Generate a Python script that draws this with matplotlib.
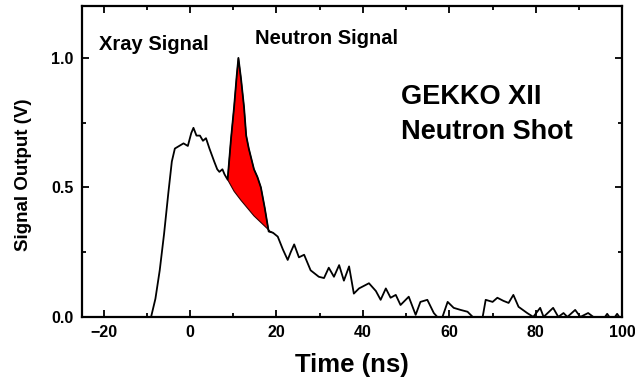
import matplotlib
matplotlib.use("Agg")
import matplotlib.pyplot as plt
from matplotlib.ticker import MultipleLocator, FormatStrFormatter

plt.rcParams['font.family'] = ['Liberation Sans', 'DejaVu Sans']
plt.rcParams['font.weight'] = 'bold'

#%% Signal trace (time in ns, output in V)
time_ns = [-25, -9, -8, -7, -6, -5, -4.2, -3.5, -2.5, -1.5, -0.5, 0.3, 0.8, 1.5, 2.3, 3.0, 3.7,
           4.5, 5.6, 6.3, 6.8, 7.5, 8.0, 8.7, 9.5, 10.2, 10.8, 11.2, 11.8, 12.5, 13.0, 13.6,
           14.8, 15.6, 16.4, 17.3, 18.2, 19.2, 20.3, 21.5, 22.6, 23.3, 24.1, 25.2, 26.4, 27.9,
           29.8, 31.0, 32.1, 33.3, 34.5, 35.6, 36.8, 37.9, 39.1, 41.4, 43.0, 44.1, 45.3, 46.4,
           47.6, 48.7, 50.6, 52.2, 53.3, 54.9, 56.4, 57.2, 58.4, 59.6, 61.0, 62.6, 64.2, 65.4,
           67.7, 68.4, 70.0, 71.1, 72.5, 73.7, 74.8, 76.0, 78.0, 79.4, 81.0, 81.8, 84.0, 85.2,
           86.4, 87.3, 89.1, 90.3, 92.1, 93.3, 96.0, 96.5, 97.0, 98.3, 98.8, 99.3, 100]
signal_v = [0, 0, 0.07, 0.18, 0.32, 0.48, 0.60, 0.65, 0.66, 0.67, 0.66, 0.71, 0.73, 0.70, 0.70,
            0.68, 0.69, 0.65, 0.60, 0.57, 0.56, 0.57, 0.55, 0.53, 0.69, 0.81, 0.93, 1.00, 0.92,
            0.81, 0.70, 0.65, 0.57, 0.54, 0.50, 0.42, 0.33, 0.325, 0.31, 0.26, 0.22, 0.25, 0.28,
            0.23, 0.24, 0.18, 0.155, 0.15, 0.19, 0.155, 0.20, 0.14, 0.195, 0.09, 0.11, 0.13,
            0.10, 0.066, 0.11, 0.074, 0.085, 0.046, 0.078, 0.008, 0.058, 0.066, 0.015, 0, 0,
            0.058, 0.035, 0.027, 0.02, 0, 0, 0.066, 0.058, 0.074, 0.062, 0.054, 0.085, 0.039,
            0.015, 0, 0.035, 0, 0.035, 0, 0.015, 0, 0.027, 0, 0.015, 0, 0, 0.012, 0, 0, 0.012,
            0, 0]

# lower edge of the shaded neutron part (xray tail underneath)
tail_t = [8.7, 10.2, 11.8, 14.8, 18.7, 19.2]
tail_v = [0.53, 0.485, 0.45, 0.39, 0.328, 0.325]
neutron_start = 8.7
neutron_end = 19.2

fig = plt.figure(figsize=(6.35, 3.8), dpi=100)
ax = fig.add_axes([0.129, 0.166, 0.851, 0.818])

# red neutron region: signal on top, tail underneath
top = [(t, v) for t, v in zip(time_ns, signal_v) if neutron_start <= t <= neutron_end]
poly_t = [p[0] for p in top] + tail_t[::-1]
poly_v = [p[1] for p in top] + tail_v[::-1]
ax.fill(poly_t, poly_v, facecolor='#ff0000', edgecolor='#300000', linewidth=0.8, zorder=2)
ax.plot(time_ns, signal_v, color='black', linewidth=1.3, zorder=3)

ax.set_xlim(-25, 100)
ax.set_ylim(0, 1.2)
ax.xaxis.set_major_locator(MultipleLocator(20))
ax.xaxis.set_minor_locator(MultipleLocator(10))
ax.yaxis.set_major_locator(MultipleLocator(0.5))
ax.yaxis.set_minor_locator(MultipleLocator(0.25))
ax.yaxis.set_major_formatter(FormatStrFormatter('%.1f'))
ax.tick_params(which='both', direction='in', top=True, right=True, width=1.3)
ax.tick_params(which='major', length=5, labelsize=11.5, pad=6)
ax.tick_params(which='minor', length=3)
for lab in ax.get_xticklabels() + ax.get_yticklabels():
    lab.set_fontweight('bold')
for s in ax.spines.values():
    s.set_linewidth(1.6)

ax.set_xlabel('Time (ns)', fontsize=18.5, fontweight='bold')
ax.xaxis.set_label_coords(0.5, -0.115)
ax.set_ylabel('Signal Output (V)', fontsize=13.5, fontweight='bold')
ax.yaxis.set_label_coords(-0.093, 0.457)

ax.text(-21, 1.05, 'Xray Signal', fontsize=14.5, fontweight='bold', va='center')
ax.text(15, 1.074, 'Neutron Signal', fontsize=14.5, fontweight='bold', va='center')
ax.text(48.7, 0.85, 'GEKKO XII', fontsize=19.5, fontweight='bold', va='center')
ax.text(48.7, 0.713, 'Neutron Shot', fontsize=19.5, fontweight='bold', va='center')

plt.savefig('out.png', dpi=100)
plt.close()
